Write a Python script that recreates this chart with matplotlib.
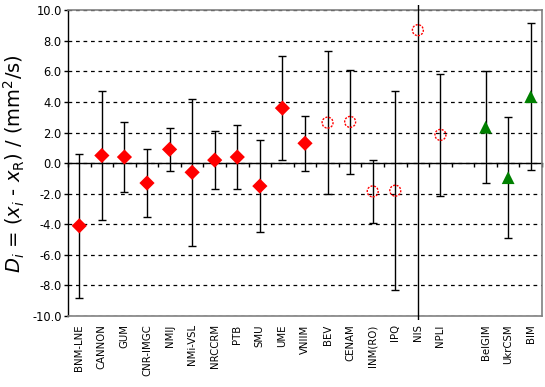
import numpy as np
import matplotlib
matplotlib.use("Agg")
import matplotlib.pyplot as plt
from matplotlib.patches import Rectangle

# category slots along the x axis (one empty slot before BelGIM)
categories = ["BNM-LNE", "CANNON", "GUM", "CNR-IMGC", "NMIJ", "NMi-VSL",
              "NRCCRM", "PTB", "SMU", "UME", "VNIIM", "BEV", "CENAM",
              "INM(RO)", "IPQ", "NIS", "NPLI", "", "BelGIM", "UkrCSM", "BIM"]

# group 1: red diamonds
lab_a = ["BNM-LNE", "CANNON", "GUM", "CNR-IMGC", "NMIJ", "NMi-VSL",
         "NRCCRM", "PTB", "SMU", "UME", "VNIIM"]
d_a = [-4.1, 0.5, 0.4, -1.3, 0.9, -0.6, 0.2, 0.4, -1.5, 3.6, 1.3]
u_a = [4.7, 4.2, 2.3, 2.2, 1.4, 4.8, 1.9, 2.1, 3.0, 3.4, 1.8]

# group 2: open red circles
lab_b = ["BEV", "CENAM", "INM(RO)", "IPQ", "NIS", "NPLI"]
d_b = [2.65, 2.7, -1.85, -1.8, 8.7, 1.85]
u_b = [4.7, 3.4, 2.05, 6.5, 20.0, 4.0]

# group 3: green triangles
lab_c = ["BelGIM", "UkrCSM", "BIM"]
d_c = [2.35, -0.95, 4.35]
u_c = [3.65, 3.95, 4.8]

yticks = np.arange(-10, 10.1, 2)

fig = plt.figure(figsize=(5.45, 3.87), dpi=100)
ax = fig.add_axes([68 / 545, 71 / 387, 474 / 545, 305.7 / 387])

pos = lambda labs: [categories.index(l) for l in labs]

# a slightly enlarged clip box, the error bars run a little past the frame
clip = Rectangle((0, -0.013), 1, 1.03, transform=ax.transAxes, facecolor="none")

for labs, d, u in [(lab_a, d_a, u_a), (lab_b, d_b, u_b), (lab_c, d_c, u_c)]:
    eb = ax.errorbar(pos(labs), d, yerr=u, fmt="none", ecolor="black",
                     elinewidth=1.0, capsize=3.2, capthick=1.0, zorder=3)
    for art in list(eb.lines[1]) + list(eb.lines[2]):
        art.set_clip_path(clip)

ax.scatter(pos(lab_a), d_a, marker="D", s=60, color="#ff0000",
           edgecolors="none", zorder=4)
ax.scatter(pos(lab_b), d_b, marker="o", s=62, facecolors="none",
           edgecolors="#ff0000", linewidths=1.0, linestyles=(0, (1.5, 1)),
           zorder=4)
ax.scatter(pos(lab_c), d_c, marker="^", s=85, color="#008000",
           edgecolors="none", zorder=4)

ax.set_xlim(-0.5, len(categories) - 0.5)
ax.set_ylim(-10, 10)
ax.set_yticks(yticks)
ax.set_yticklabels(["%.1f" % v for v in yticks])
ax.set_xticks(range(len(categories)))
ax.set_xticklabels(categories, rotation=90, fontsize=7.3, va="top")
ax.tick_params(axis="x", length=0, pad=6)
ax.tick_params(axis="y", direction="out", length=3, width=1, pad=1.5,
               labelsize=8.3)

ax.yaxis.grid(True, linestyle=(0, (3, 3)), color="black", linewidth=0.9)
ax.set_axisbelow(True)

for s in ["top", "right", "bottom"]:
    ax.spines[s].set_color("#808080")
    ax.spines[s].set_linewidth(1.2)
ax.spines["left"].set_color("black")
ax.spines["left"].set_linewidth(1.0)

# zero line with tick marks between the categories
sec = ax.secondary_xaxis(0.5)
sec.set_xticks(np.arange(len(categories) + 1) - 0.5)
sec.tick_params(direction="in", length=3, width=1, labeltop=False,
                labelbottom=False)
for s in sec.spines.values():
    s.set_color("black")
    s.set_linewidth(1.0)

ax.set_ylabel(r"$\mathbf{\mathit{D_i}}$ = ($x_i$ - $x_{\mathrm{R}}$) / (mm$^2$/s)",
              fontsize=14, labelpad=4)

fig.savefig("out.png", dpi=100)
